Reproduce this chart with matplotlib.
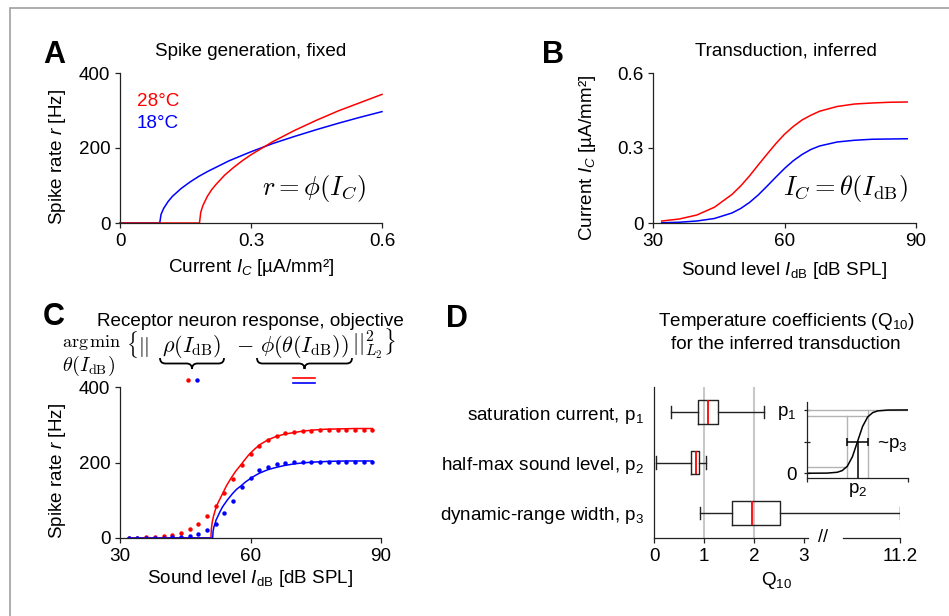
import numpy as np
import matplotlib
matplotlib.use("Agg")
import matplotlib.pyplot as plt
from matplotlib.patches import Rectangle, PathPatch
from matplotlib.path import Path
from matplotlib.lines import Line2D

plt.rcParams['font.family'] = ['Liberation Sans', 'DejaVu Sans']
plt.rcParams['font.size'] = 13.6
plt.rcParams['mathtext.fontset'] = 'custom'
plt.rcParams['mathtext.rm'] = 'Liberation Sans'
plt.rcParams['mathtext.it'] = 'Liberation Sans:italic'
plt.rcParams['mathtext.bf'] = 'Liberation Sans:bold'
plt.rcParams['axes.linewidth'] = 0.9
plt.rcParams['axes.edgecolor'] = '#222222'
plt.rcParams['xtick.color'] = '#222222'
plt.rcParams['ytick.color'] = '#222222'
plt.rcParams['xtick.labelcolor'] = 'black'
plt.rcParams['ytick.labelcolor'] = 'black'
plt.rcParams['xtick.major.size'] = 3.5
plt.rcParams['ytick.major.size'] = 3.5
plt.rcParams['xtick.major.width'] = 0.9
plt.rcParams['ytick.major.width'] = 0.9

# ---- A: spike generation r = phi(I_C) ----
ic_28 = [0, 0.182, 0.185, 0.19, 0.2, 0.21, 0.22, 0.24, 0.26, 0.28, 0.3, 0.35, 0.4, 0.45, 0.5, 0.55, 0.6]
rate_28 = [0, 0, 29, 47, 71, 89, 103, 128, 148, 166, 182, 217, 247, 274, 299, 321, 343]
ic_18 = [0, 0.091, 0.094, 0.1, 0.11, 0.12, 0.14, 0.16, 0.18, 0.2, 0.25, 0.3, 0.35, 0.4, 0.45, 0.5, 0.55, 0.6]
rate_18 = [0, 0, 23, 39, 57, 71, 92, 109, 124, 137, 166, 190, 212, 231, 249, 266, 282, 297]

# ---- B: transduction I_C = theta(I_dB) ----
db_b = [32, 36, 40, 44, 48, 50, 52, 54, 56, 58, 60, 62, 64, 66, 68, 72, 76, 80, 84, 88]
cur_28 = [0.008, 0.016, 0.032, 0.063, 0.114, 0.148, 0.188, 0.232, 0.275, 0.317, 0.355, 0.386,
          0.412, 0.431, 0.447, 0.466, 0.476, 0.480, 0.483, 0.484]
cur_18 = [0.001, 0.003, 0.008, 0.018, 0.040, 0.058, 0.082, 0.112, 0.147, 0.183, 0.218, 0.249,
          0.274, 0.294, 0.308, 0.324, 0.331, 0.335, 0.336, 0.337]

# ---- C: receptor neuron response ----
db_dots = [32, 34, 36, 38, 40, 42, 44, 46, 48, 50, 52, 54, 56, 58, 60, 62, 64, 66, 68, 70,
           72, 74, 76, 78, 80, 82, 84, 86, 88]
dots_28 = [1, 1, 2, 3, 5, 9, 14, 23, 37, 57, 85, 118, 157, 193, 223, 245, 260, 271, 278, 281,
           283, 284, 285, 286, 286, 286, 286, 286, 286]
dots_18 = [0, 0, 0, 1, 1, 2, 3, 5, 11, 21, 37, 65, 98, 134, 160, 180, 189, 195, 199, 201,
           201, 201, 201, 201, 201, 201, 201, 201, 201]
db_fit_28 = [32, 50.9, 51.0, 51.2, 51.5, 51.9, 52.4, 53.0, 53.6, 54.5, 55.5, 56.6, 57.8, 58.8, 59.8,
             61, 62.1, 64, 65.9, 67.8, 69.8, 72, 74.4, 77, 80.5, 84, 88]
fit_28 = [0, 0, 24, 42, 58, 74, 90, 104, 118, 139, 158, 177, 194, 209, 223, 236, 247, 260, 269,
          275, 279, 283, 286, 288, 289, 290, 290]
db_fit_18 = [32, 51.3, 51.4, 51.6, 51.9, 52.1, 52.6, 53.0, 53.6, 54.7, 55.9, 56.8, 57.8, 58.8, 59.8,
             61, 62.1, 64, 65.9, 67.8, 69.8, 72, 74.4, 78, 82, 88]
fit_18 = [0, 0, 18, 30, 40, 48, 60, 70, 83, 101, 118, 129, 138, 148, 156, 165, 172, 181, 187,
          192, 196, 199, 201, 203, 204, 204]

# ---- D: Q10 box plots ----
q10_names = ['saturation current, p$_1$', 'half-max sound level, p$_2$', 'dynamic-range width, p$_3$']
q10_whislo = [0.33, 0.04, 0.91]
q10_q1 = [0.88, 0.74, 1.56]
q10_med = [1.07, 0.83, 1.95]
q10_q3 = [1.27, 0.89, 2.52]
q10_whishi = [2.19, 1.03, 11.2]
q10_ticks = [0, 1, 2, 3, 11.2]
q10_ticklabels = ['0', '1', '2', '3', '11.2']

# inset sketch of the sigmoid
sk_x = [0, 0.2, 0.3, 0.35, 0.4, 0.45, 0.5, 0.55, 0.6, 0.65, 0.7, 0.8, 1.0]
sk_y = [0, 0.002, 0.015, 0.042, 0.111, 0.261, 0.5, 0.739, 0.889, 0.958, 0.985, 0.998, 1.0]
sk_lo, sk_mid, sk_hi = 0.394, 0.5, 0.606

W, H = 949, 616
fig = plt.figure(figsize=(W / 100, H / 100), dpi=100)


def fx(px):
    return px / W


def fy(py):
    return 1 - py / H


def frame(l, t, r, b):
    return [l / W, 1 - b / H, (r - l) / W, (b - t) / H]


def clean(ax):
    ax.spines['top'].set_visible(False)
    ax.spines['right'].set_visible(False)


# figure border (left and top only visible)
fig.add_artist(Rectangle((fx(10), -0.1), 1.2, fy(8) + 0.1, transform=fig.transFigure,
                         fill=False, ec='#a0a0a0', lw=1.2))

RED, BLUE = '#ff0000', '#0000ff'

# ---------------- A ----------------
axA = fig.add_axes(frame(120, 73, 382, 223))
clean(axA)
axA.plot(ic_18, rate_18, color=BLUE, lw=1.1, clip_on=False)
axA.plot(ic_28, rate_28, color=RED, lw=1.1, clip_on=False)
axA.set_xlim(0, 0.6)
axA.set_ylim(0, 400)
axA.set_xticks([0, 0.3, 0.6], ['0', '0.3', '0.6'])
axA.set_yticks([0, 200, 400])
axA.set_xlabel('Current $I_C$ [µA/mm²]')
axA.set_ylabel('Spike rate $r$ [Hz]')
axA.xaxis.set_label_coords(0.5, -0.23)
axA.yaxis.set_label_coords(-0.199, 0.44)
axA.text(0.065, 0.81, '28°C', color=RED, transform=axA.transAxes, va='center')
axA.text(0.065, 0.66, '18°C', color=BLUE, transform=axA.transAxes, va='center')
axA.text(0.74, 0.227, r'$r = \phi(I_C)$', transform=axA.transAxes, ha='center', va='center',
         fontsize=19, math_fontfamily='cm')
fig.text(fx(251), fy(51), 'Spike generation, fixed', ha='center', va='center')
fig.text(fx(43), fy(63), 'A', fontsize=22, fontweight='bold', va='baseline')

# ---------------- B ----------------
axB = fig.add_axes(frame(653, 73, 916, 223))
clean(axB)
axB.plot(db_b, cur_28, color=RED, lw=1.1)
axB.plot(db_b, cur_18, color=BLUE, lw=1.1)
axB.set_xlim(30, 90)
axB.set_ylim(0, 0.6)
axB.set_xticks([30, 60, 90])
axB.set_yticks([0, 0.3, 0.6], ['0', '0.3', '0.6'])
axB.set_xlabel(r'Sound level $I_\mathrm{dB}$ [dB SPL]')
axB.set_ylabel('Current $I_C$ [µA/mm²]')
axB.xaxis.set_label_coords(0.5, -0.245)
axB.yaxis.set_label_coords(-0.209, 0.433)
axB.text(0.733, 0.233, r'$I_C = \theta(I_\mathrm{dB})$', transform=axB.transAxes, ha='center',
         va='center', fontsize=19, math_fontfamily='cm')
fig.text(fx(786), fy(51), 'Transduction, inferred', ha='center', va='center')
fig.text(fx(542), fy(63), 'B', fontsize=22, fontweight='bold', va='baseline')

# ---------------- C ----------------
axC = fig.add_axes(frame(120, 387, 381, 538))
clean(axC)
axC.plot(db_fit_28, fit_28, color=RED, lw=1.1)
axC.plot(db_fit_18, fit_18, color=BLUE, lw=1.1)
axC.plot(db_dots, dots_28, 'o', color=RED, ms=3.2, mew=0)
axC.plot(db_dots, dots_18, 'o', color=BLUE, ms=3.2, mew=0)
axC.set_xlim(30, 90)
axC.set_ylim(0, 400)
axC.set_xticks([30, 60, 90])
axC.set_yticks([0, 200, 400])
axC.set_xlabel(r'Sound level $I_\mathrm{dB}$ [dB SPL]')
axC.set_ylabel('Spike rate $r$ [Hz]')
axC.xaxis.set_label_coords(0.5, -0.2)
axC.yaxis.set_label_coords(-0.199, 0.445)
fig.text(fx(250), fy(321), 'Receptor neuron response, objective', ha='center', va='center')
fig.text(fx(43), fy(325), 'C', fontsize=22, fontweight='bold', va='baseline')

# objective formula (pieces so the braces can sit under the terms)
FS = 16
fig.text(fx(62), fy(343), r'$\arg\min$', ha='left', va='center', fontsize=13, math_fontfamily='cm')
fig.text(fx(126), fy(345), r'$\{||$', ha='left', va='center', fontsize=15, math_fontfamily='cm')
fig.text(fx(62), fy(366), r'$\theta(I_\mathrm{dB})$', ha='left', va='center', fontsize=14.5,
         math_fontfamily='cm')
fig.text(fx(192), fy(347), r'$\rho(I_\mathrm{dB})$', ha='center', va='center', fontsize=FS, math_fontfamily='cm')
fig.text(fx(245), fy(345), r'$-$', ha='center', va='center', fontsize=FS, math_fontfamily='cm')
fig.text(fx(304), fy(347), r'$\phi(\theta(I_\mathrm{dB}))$', ha='center', va='center', fontsize=FS,
         math_fontfamily='cm')
fig.text(fx(352), fy(344), r'$||^2_{L_2}\}$', ha='left', va='center', fontsize=FS, math_fontfamily='cm')


def brace(x0, x1, yt, h):
    xm = (x0 + x1) / 2
    ym = yt + h / 2
    pts = [(x0, yt), (x0, ym), (x0 + h / 2, ym), (xm - h / 2, ym), (xm, ym), (xm, yt + h),
           (xm, ym), (xm + h / 2, ym), (x1 - h / 2, ym), (x1, ym), (x1, yt)]
    codes = [Path.MOVETO, Path.CURVE3, Path.CURVE3, Path.LINETO, Path.CURVE3, Path.CURVE3,
             Path.CURVE3, Path.CURVE3, Path.LINETO, Path.CURVE3, Path.CURVE3]
    verts = [(fx(x), fy(y)) for x, y in pts]
    fig.add_artist(PathPatch(Path(verts, codes), transform=fig.transFigure, fill=False,
                             lw=1.3, ec='black'))


brace(160, 224, 358, 11)
brace(257, 352, 358, 11)
fig.add_artist(Line2D([fx(187.5)], [fy(380)], marker='o', ms=3.2, mew=0, color=RED,
                      transform=fig.transFigure))
fig.add_artist(Line2D([fx(196.5)], [fy(380)], marker='o', ms=3.2, mew=0, color=BLUE,
                      transform=fig.transFigure))
fig.add_artist(Line2D([fx(292.5), fx(315)], [fy(377.5)] * 2, color=RED, lw=1.2,
                      transform=fig.transFigure))
fig.add_artist(Line2D([fx(292.5), fx(315)], [fy(383)] * 2, color=BLUE, lw=1.2,
                      transform=fig.transFigure))

# ---------------- D ----------------
BRK, K = 3.0, 0.234


def fwd(x):
    x = np.asarray(x, float)
    return np.where(x <= BRK, x, BRK + (x - BRK) * K)


def inv(y):
    y = np.asarray(y, float)
    return np.where(y <= BRK, y, BRK + (y - BRK) / K)


axD = fig.add_axes(frame(654, 387, 900, 538))
clean(axD)
axD.set_xscale('function', functions=(fwd, inv))
axD.set_xlim(0, 11.2)
axD.set_ylim(0.5, 3.5)
for g in [1, 2]:
    axD.axvline(g, color='#c8c8c8', lw=1.5, zorder=0)
stats = []
for i in range(3):
    stats.append(dict(label=q10_names[i], whislo=q10_whislo[i], q1=q10_q1[i], med=q10_med[i],
                      q3=q10_q3[i], whishi=q10_whishi[i], fliers=[]))
axD.bxp(stats, positions=[3, 2, 1], orientation='horizontal', widths=0.47, capwidths=0.25,
        showfliers=False,
        boxprops=dict(color='#222222', lw=1.0),
        whiskerprops=dict(color='#222222', lw=1.0),
        capprops=dict(color='#222222', lw=1.0),
        medianprops=dict(color=RED, lw=1.3))
axD.set_yticks([3, 2, 1], q10_names)
axD.tick_params(axis='y', length=0, pad=7)
axD.set_xticks(q10_ticks, q10_ticklabels)
axD.xaxis.set_minor_locator(matplotlib.ticker.NullLocator())
axD.set_xlabel('Q$_{10}$')
axD.xaxis.set_label_coords(0.5, -0.215)
# broken bottom axis
axD.spines['bottom'].set_visible(False)
xt = axD.get_xaxis_transform()
axD.plot([0, 3.32], [0, 0], color='#222222', lw=0.9, transform=xt, clip_on=False)
axD.plot([6.31, 11.2], [0, 0], color='#222222', lw=0.9, transform=xt, clip_on=False)
axD.text(4.62, 0, '//', transform=xt, ha='center', va='center', fontsize=13)
fig.text(fx(786), fy(332), 'Temperature coefficients (Q$_{10}$)\nfor the inferred transduction',
         ha='center', va='center', linespacing=1.25)
fig.text(fx(446), fy(327), 'D', fontsize=22, fontweight='bold', va='baseline')

# inset sketch
axI = fig.add_axes(frame(806.7, 401.7, 908.3, 478.3))
clean(axI)
axI.set_xlim(0, 1)
axI.set_ylim(-0.08, 1.13)
GREY = '#b4b4b4'
axI.plot([0, 1], [1, 1], color=GREY, lw=1.0)
axI.plot([0, sk_hi], [0.9, 0.9], color=GREY, lw=1.0)
axI.plot([0, sk_lo], [0.1, 0.1], color=GREY, lw=1.0)
axI.plot([sk_lo, sk_lo], [-0.08, 0.9], color=GREY, lw=1.0)
axI.plot([sk_hi, sk_hi], [-0.08, 1.0], color=GREY, lw=1.0)
axI.plot(sk_x, sk_y, color='black', lw=1.1)
axI.plot([sk_mid, sk_mid], [-0.08, 0.5], color='black', lw=1.1)
axI.errorbar([sk_mid], [0.5], xerr=[[sk_mid - sk_lo], [sk_hi - sk_mid]], color='black', lw=1.1,
             capsize=3, capthick=1.1)
axI.set_yticks([0, 0.5, 1], ['0', '', 'p$_1$'])
axI.set_xticks([0, 1], ['', ''])
axI.tick_params(axis='y', direction='inout', length=5, pad=5)
axI.tick_params(axis='x', direction='out', length=3)
axI.text(0.5, -0.15, 'p$_2$', transform=axI.transAxes, ha='center', va='center')
axI.text(0.69, 0.45, '~p$_3$', ha='left', va='center')

fig.savefig('out.png', dpi=100)
